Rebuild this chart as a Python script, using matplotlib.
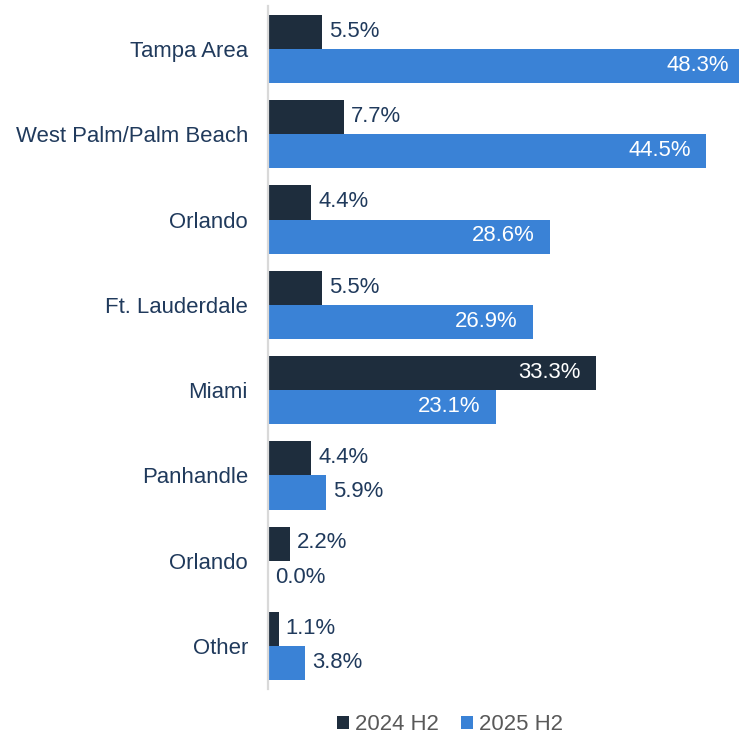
import matplotlib
matplotlib.use("Agg")
import matplotlib.pyplot as plt
import numpy as np

categories = ["Tampa Area", "West Palm/Palm Beach", "Orlando", "Ft. Lauderdale",
              "Miami", "Panhandle", "Orlando", "Other"]
h2_2024 = [5.5, 7.7, 4.4, 5.5, 33.3, 4.4, 2.2, 1.1]
h2_2025 = [48.3, 44.5, 28.6, 26.9, 23.1, 5.9, 0.0, 3.8]
series_names = ["2024 H2", "2025 H2"]

dark = "#1e2d3d"
blue = "#3a82d6"
txt = "#203a5c"
fs = 15.9

plt.rcParams['font.family'] = ['Liberation Sans', 'DejaVu Sans']

fig = plt.figure(figsize=(7.39, 7.37), dpi=100)
ax = fig.add_axes([268/739, 1 - 688.6/737, 1 - 268/739, (688.6 - 6.4)/737])

y = np.arange(len(categories))
h = 0.4
b1 = ax.barh(y - h/2, h2_2024, height=h, color=dark, label=series_names[0])
b2 = ax.barh(y + h/2, h2_2025, height=h, color=blue, label=series_names[1])

ax.set_xlim(0, 47.8)
ax.set_ylim(len(categories) - 0.5, -0.5)
ax.set_yticks(y)
ax.set_yticklabels(categories)
ax.tick_params(axis='y', length=0, pad=14.4, labelsize=fs, labelcolor=txt)
ax.set_xticks([])
for s in ["top", "right", "bottom"]:
    ax.spines[s].set_visible(False)
ax.spines["left"].set_color("#d9d9d9")
ax.spines["left"].set_linewidth(1.6)

# labels: inside the bar when it is long, outside otherwise
for bars, vals in [(b1, h2_2024), (b2, h2_2025)]:
    for bar, v in zip(bars, vals):
        yc = bar.get_y() + bar.get_height()/2
        if v > 15:
            ax.annotate(f"{v:.1f}%", (v, yc), xytext=(-11, 0.5), textcoords="offset points",
                        ha="right", va="center", color="white", fontsize=fs,
                        annotation_clip=False)
        else:
            ax.annotate(f"{v:.1f}%", (v, yc), xytext=(5, 0.5), textcoords="offset points",
                        ha="left", va="center", color=txt, fontsize=fs)

fig.legend(handles=[b1, b2], loc="center", bbox_to_anchor=(450/739, 1 - 725/737),
           ncol=2, frameon=False, fontsize=fs, labelcolor="#595959",
           handlelength=0.55, handleheight=0.55, handletextpad=0.25, columnspacing=1.0)

fig.savefig("out.png", dpi=100)
